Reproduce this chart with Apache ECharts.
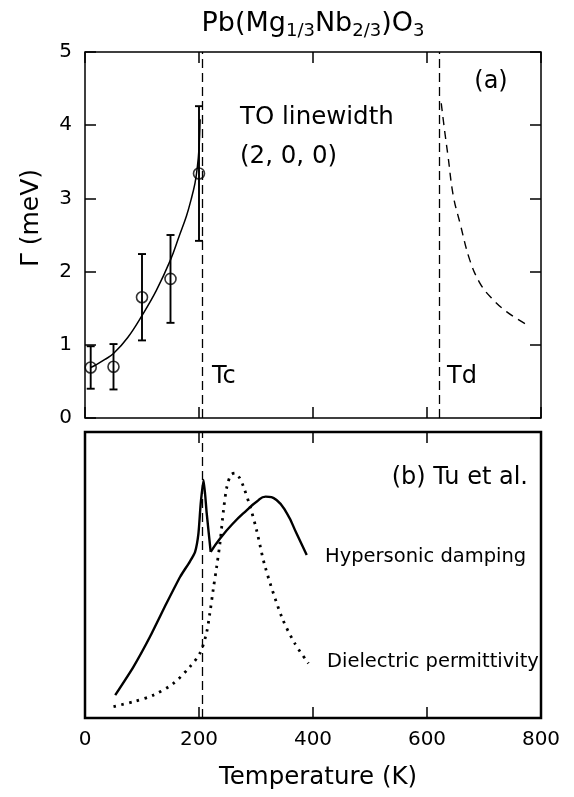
<!DOCTYPE html>
<html>
<head>
<meta charset="utf-8">
<script src="https://cdn.jsdelivr.net/npm/echarts@6/dist/echarts.min.js"></script>
<style>html,body{margin:0;padding:0;background:#fff;}#c{width:574px;height:797px;}</style>
</head>
<body>
<div id="c"></div>
<script>
// ---- data ----
const Tc = 205;
const Td = 622;
const xTicks = [0, 200, 400, 600, 800];
const yTicksTop = [0, 1, 2, 3, 4, 5];

// measured TO linewidth points (T, Gamma, error)
const ptT = [10, 50, 100, 150, 200];
const ptG = [0.69, 0.70, 1.65, 1.90, 3.34];
const ptE = [0.29, 0.31, 0.59, 0.60, 0.92];

// fit curve below Tc
const fitT = [10, 20, 35, 50, 75, 100, 125, 150, 165, 178, 186, 193, 197, 200, 202];
const fitG = [0.69, 0.73, 0.80, 0.88, 1.10, 1.40, 1.74, 2.16, 2.48, 2.76, 2.98, 3.21, 3.42, 3.68, 4.08];

// dashed curve above Td
const tdT = [625, 631, 637, 646, 658, 675, 693, 713, 740, 772];
const tdG = [4.30, 3.92, 3.57, 3.04, 2.66, 2.16, 1.84, 1.64, 1.45, 1.29];

// (b) Tu et al. curves (arbitrary units)
// hypersonic damping: rise and spike at Tc
const hypT1 = [53, 85, 114, 143, 167, 184, 193, 199, 203, 208, 213.5, 220.5];
const hypV1 = [0.080, 0.179, 0.284, 0.401, 0.494, 0.547, 0.580, 0.645, 0.750, 0.832, 0.716, 0.581];
// hypersonic damping: broad hump above Tc
const hypT2 = [220.5, 237, 260, 284, 301, 317, 336, 354, 371, 389];
const hypV2 = [0.581, 0.628, 0.681, 0.727, 0.756, 0.774, 0.762, 0.716, 0.646, 0.570];

// dielectric permittivity
const dieT = [50, 85, 120, 155, 184, 202, 213, 219, 225, 231, 237, 243, 249, 256, 263, 271, 278, 290, 301, 316, 345, 368, 392];
const dieV = [0.040, 0.057, 0.080, 0.121, 0.179, 0.228, 0.296, 0.366, 0.450, 0.529, 0.615, 0.727, 0.809, 0.850, 0.856, 0.840, 0.809, 0.737, 0.657, 0.529, 0.354, 0.261, 0.191];

// ---- chart ----
const FONT = 'DejaVu Sans';
const zip = (a, b) => a.map((v, i) => [v, b[i]]);
const chart = echarts.init(document.getElementById('c'), null, {renderer: 'canvas'});

const tick = {show: true, inside: true, length: 11, lineStyle: {color: '#000', width: 1.5}};
const noLine = {show: false, onZero: false};
const xBase = {type: 'value', min: 0, max: 800, interval: 200, splitLine: {show: false}, axisLine: noLine};
const dashLine = {type: [9, 5], color: '#000', width: 1.3};
const solidB = {color: '#000', width: 2.4};

const option = {
  animation: false,
  backgroundColor: '#fff',
  grid: [
    {left: 85, top: 52, width: 456, height: 366, show: true, borderColor: '#000', borderWidth: 1.5, backgroundColor: 'transparent'},
    {left: 85, top: 432, width: 456, height: 286, show: true, borderColor: '#000', borderWidth: 2.5, backgroundColor: 'transparent'}
  ],
  xAxis: [
    Object.assign({}, xBase, {gridIndex: 0, position: 'bottom', axisTick: tick, axisLabel: {show: false}}),
    Object.assign({}, xBase, {gridIndex: 0, position: 'top', axisTick: tick, axisLabel: {show: false}}),
    Object.assign({}, xBase, {gridIndex: 1, position: 'bottom', axisTick: tick,
      axisLabel: {show: true, margin: 12, fontSize: 20, fontFamily: FONT, color: '#000',
        formatter: v => xTicks.includes(v) ? String(v) : ''}}),
    Object.assign({}, xBase, {gridIndex: 1, position: 'top', axisTick: tick, axisLabel: {show: false}})
  ],
  yAxis: [
    {type: 'value', gridIndex: 0, position: 'left', min: 0, max: 5, interval: 1, splitLine: {show: false},
      axisLine: noLine, axisTick: tick,
      axisLabel: {show: true, margin: 13, fontSize: 20, fontFamily: FONT, color: '#000',
        formatter: v => yTicksTop.includes(v) ? String(v) : ''}},
    {type: 'value', gridIndex: 0, position: 'right', min: 0, max: 5, interval: 1, splitLine: {show: false},
      axisLine: noLine, axisTick: tick, axisLabel: {show: false}},
    {type: 'value', gridIndex: 1, min: 0, max: 1, show: false, splitLine: {show: false}, axisLine: noLine}
  ],
  series: [
    {
      type: 'line', xAxisIndex: 0, yAxisIndex: 0, data: zip(fitT, fitG), smooth: 0.4,
      symbol: 'none', lineStyle: {color: '#000', width: 1.5}, silent: true, z: 3,
      markLine: {silent: true, symbol: 'none', label: {show: false}, lineStyle: dashLine,
        data: [{xAxis: Tc}, {xAxis: Td}]}
    },
    {
      type: 'line', xAxisIndex: 0, yAxisIndex: 0, data: zip(tdT, tdG), smooth: 0.4,
      symbol: 'none', lineStyle: {color: '#000', width: 1.4, type: [8, 6]}, silent: true
    },
    {
      type: 'custom', xAxisIndex: 0, yAxisIndex: 0, silent: true, z: 4,
      data: ptT.map((t, i) => [t, ptG[i], ptE[i]]),
      encode: {x: 0, y: 1},
      renderItem: function (params, api) {
        const x = api.value(0), y = api.value(1), e = api.value(2);
        const hi = api.coord([x, y + e]);
        const lo = api.coord([x, y - e]);
        const w = 4;
        const st = {stroke: '#000', lineWidth: 1.9, fill: null};
        return {type: 'group', children: [
          {type: 'line', shape: {x1: hi[0], y1: hi[1], x2: lo[0], y2: lo[1]}, style: st},
          {type: 'line', shape: {x1: hi[0] - w, y1: hi[1], x2: hi[0] + w, y2: hi[1]}, style: st},
          {type: 'line', shape: {x1: lo[0] - w, y1: lo[1], x2: lo[0] + w, y2: lo[1]}, style: st}
        ]};
      }
    },
    {
      type: 'scatter', xAxisIndex: 0, yAxisIndex: 0, data: zip(ptT, ptG), symbol: 'circle', symbolSize: 11,
      itemStyle: {color: 'rgba(255,255,255,0)', borderColor: '#000', borderWidth: 1.6}, silent: true, z: 5
    },
    {
      type: 'line', xAxisIndex: 2, yAxisIndex: 2, data: zip(hypT1, hypV1), smooth: 0.2,
      symbol: 'none', lineStyle: solidB, silent: true,
      markLine: {silent: true, symbol: 'none', label: {show: false}, lineStyle: dashLine,
        data: [{xAxis: Tc}]}
    },
    {
      type: 'line', xAxisIndex: 2, yAxisIndex: 2, data: zip(hypT2, hypV2), smooth: 0.5,
      symbol: 'none', lineStyle: solidB, silent: true
    },
    {
      type: 'line', xAxisIndex: 2, yAxisIndex: 2, data: zip(dieT, dieV), smooth: 0.3,
      symbol: 'none', lineStyle: {color: '#000', width: 2.8, type: [2.5, 5.5], cap: 'butt'}, silent: true
    }
  ],
  graphic: [
    {type: 'text', x: 313, y: 24, silent: true, style: {
      text: '{m|Pb(Mg}{s|1/3}{m|Nb}{s|2/3}{m|)O}{s|3}',
      align: 'center', verticalAlign: 'middle', fill: '#000',
      rich: {
        m: {fontSize: 27, fontFamily: FONT, lineHeight: 32, fill: '#000'},
        s: {fontSize: 18, fontFamily: FONT, lineHeight: 18, verticalAlign: 'bottom', fill: '#000'}
      }}},
    {type: 'text', x: 31, y: 218, rotation: Math.PI / 2, silent: true, style: {
      text: 'Γ (meV)', font: '25px "DejaVu Sans"', fill: '#000', align: 'center', verticalAlign: 'middle'}},
    {type: 'text', x: 318, y: 778, silent: true, style: {
      text: 'Temperature (K)', font: '24.5px "DejaVu Sans"', fill: '#000', align: 'center', verticalAlign: 'middle'}},
    {type: 'text', x: 240, y: 118, silent: true, style: {
      text: 'TO linewidth', font: '24.5px "DejaVu Sans"', fill: '#000', align: 'left', verticalAlign: 'middle'}},
    {type: 'text', x: 240, y: 157, silent: true, style: {
      text: '(2, 0, 0)', font: '24.5px "DejaVu Sans"', fill: '#000', align: 'left', verticalAlign: 'middle'}},
    {type: 'text', x: 491, y: 82, silent: true, style: {
      text: '(a)', font: '24px "DejaVu Sans"', fill: '#000', align: 'center', verticalAlign: 'middle'}},
    {type: 'text', x: 212, y: 377, silent: true, style: {
      text: 'Tc', font: '24px "DejaVu Sans"', fill: '#000', align: 'left', verticalAlign: 'middle'}},
    {type: 'text', x: 447, y: 377, silent: true, style: {
      text: 'Td', font: '24px "DejaVu Sans"', fill: '#000', align: 'left', verticalAlign: 'middle'}},
    {type: 'text', x: 528, y: 478, silent: true, style: {
      text: '(b) Tu et al.', font: '24px "DejaVu Sans"', fill: '#000', align: 'right', verticalAlign: 'middle'}},
    {type: 'text', x: 325, y: 557, silent: true, style: {
      text: 'Hypersonic damping', font: '19.5px "DejaVu Sans"', fill: '#000', align: 'left', verticalAlign: 'middle'}},
    {type: 'text', x: 327, y: 662, silent: true, style: {
      text: 'Dielectric permittivity', font: '19.5px "DejaVu Sans"', fill: '#000', align: 'left', verticalAlign: 'middle'}}
  ]
};
chart.setOption(option);
</script>
</body>
</html>
